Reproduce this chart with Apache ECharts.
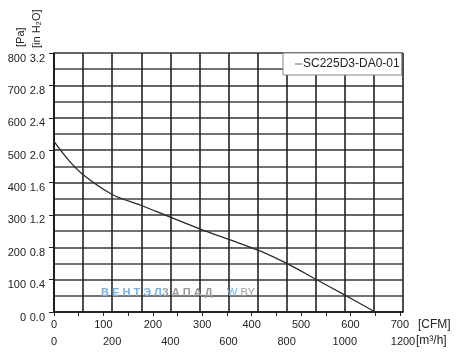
<!DOCTYPE html>
<html>
<head>
<meta charset="utf-8">
<script src="https://cdn.jsdelivr.net/npm/echarts@6/dist/echarts.min.js"></script>
<style>html,body{margin:0;padding:0;background:#fff;}#c{width:461px;height:355px;}</style>
</head>
<body>
<div id="c"></div>
<script>
// Data (airflow in CFM, static pressure in Pa)
var seriesName = 'SC225D3-DA0-01';
var flowCFM = [0, 29, 59, 118, 177, 235, 295, 354, 413, 471, 530, 589, 650];
var pressurePa = [527, 470, 424, 363, 329, 293, 257, 224, 191, 150, 101, 52, 0];
var cfmTicks = [0, 100, 200, 300, 400, 500, 600, 700];
var m3hTicks = [0, 200, 400, 600, 800, 1000, 1200];
var paTicks = [0, 100, 200, 300, 400, 500, 600, 700, 800];
var inH2OTicks = ['0.0', '0.4', '0.8', '1.2', '1.6', '2.0', '2.4', '2.8', '3.2'];
var CFM_TO_M3H = 1.699;

var FONT = 'Liberation Sans, Arial, sans-serif';
var chart = echarts.init(document.getElementById('c'));
var pts = flowCFM.map(function (x, i) { return [x, pressurePa[i]]; });

chart.setOption({
  animation: false,
  backgroundColor: '#fff',
  grid: { left: 54, top: 53, right: 58, bottom: 43, containLabel: false },
  legend: {
    left: 283, top: 53,
    padding: [5, 2, 5, 12],
    backgroundColor: '#fff',
    borderColor: '#888', borderWidth: 1,
    itemWidth: 7, itemHeight: 12, itemGap: 2,
    textStyle: { fontFamily: FONT, fontSize: 12, color: '#222', padding: [0, 0, 0, -4] },
    data: [{ name: seriesName, icon: 'path://M0,5.5 L10,5.5 L10,6.5 L0,6.5 Z' }]
  },
  xAxis: [
    {
      type: 'value', min: 0, max: 1200, interval: 100, position: 'bottom',
      axisLine: { show: false }, axisTick: { show: false },
      splitLine: { show: true, lineStyle: { color: '#222', width: 1.6 } },
      axisLabel: {
        margin: 24, fontFamily: FONT, fontSize: 11, color: '#222',
        formatter: function (v) { return m3hTicks.indexOf(v) >= 0 ? String(v) : ''; }
      }
    },
    {
      type: 'value', min: 0, max: 1200 / CFM_TO_M3H, interval: 50, position: 'bottom',
      axisLine: { show: true, lineStyle: { color: '#111', width: 1.6 } },
      axisTick: { show: true, length: 4, lineStyle: { color: '#222' } },
      splitLine: { show: false },
      axisLabel: {
        margin: 7, fontFamily: FONT, fontSize: 11, color: '#222', showMaxLabel: false,
        formatter: function (v) { return cfmTicks.indexOf(v) >= 0 ? String(v) : ''; }
      }
    }
  ],
  yAxis: [
    {
      type: 'value', min: 0, max: 800, interval: 100, position: 'left',
      axisLine: { show: true, lineStyle: { color: '#111', width: 1.6 } },
      axisTick: { show: true, length: 5, lineStyle: { color: '#222' } },
      splitLine: { show: true, lineStyle: { color: '#333', width: 1.6 } },
      minorTick: { show: false, splitNumber: 2 },
      minorSplitLine: { show: true, lineStyle: { color: '#444', width: 1.6 } },
      axisLabel: {
        margin: 28, fontFamily: FONT, fontSize: 11, color: '#222', verticalAlign: 'top',
        formatter: function (v) { return paTicks.indexOf(v) >= 0 ? String(v) : ''; }
      }
    },
    {
      type: 'value', min: 0, max: 800, interval: 100, position: 'left', offset: 0,
      axisLine: { show: false }, axisTick: { show: false }, splitLine: { show: false },
      axisLabel: {
        margin: 9, fontFamily: FONT, fontSize: 11, color: '#222', verticalAlign: 'top',
        formatter: function (v) { var i = paTicks.indexOf(v); return i >= 0 ? inH2OTicks[i] : ''; }
      }
    }
  ],
  series: [{
    name: seriesName, type: 'line', xAxisIndex: 1, yAxisIndex: 0,
    data: pts, symbol: 'none', smooth: 0.35,
    lineStyle: { color: '#2a2a2a', width: 1.3 },
    itemStyle: { color: '#2a2a2a' }, z: 5
  }],
  graphic: [
    { type: 'text', left: 418, top: 319, style: { text: '[CFM]', font: '12px ' + FONT, fill: '#222' } },
    { type: 'text', left: 416, top: 335, style: { text: '[m³/h]', font: '12px ' + FONT, fill: '#222' } },
    { type: 'text', x: 15, y: 47, rotation: Math.PI / 2, style: { text: '[Pa]', font: '11px ' + FONT, fill: '#222' } },
    { type: 'text', x: 31, y: 48, rotation: Math.PI / 2, style: { text: '[in H₂O]', font: '11px ' + FONT, fill: '#222' } },
    { type: 'text', left: 101, top: 287, z: 10, style: {
        text: '{b|В Е Н Т Э Л}{g|З А П А Д}', font: 'bold 11px ' + FONT,
        rich: { b: { fill: '#7ab0e0', font: 'bold 11px ' + FONT }, g: { fill: '#9a9a9a', font: 'bold 11px ' + FONT } } } },
    { type: 'text', left: 227, top: 287, z: 10, style: {
        text: '{b|W}{g|.BY}', font: '11px ' + FONT,
        rich: { b: { fill: '#7ab0e0', font: '11px ' + FONT }, g: { fill: '#a0a0a0', font: '11px ' + FONT } } } }
  ]
});
</script>
</body>
</html>
